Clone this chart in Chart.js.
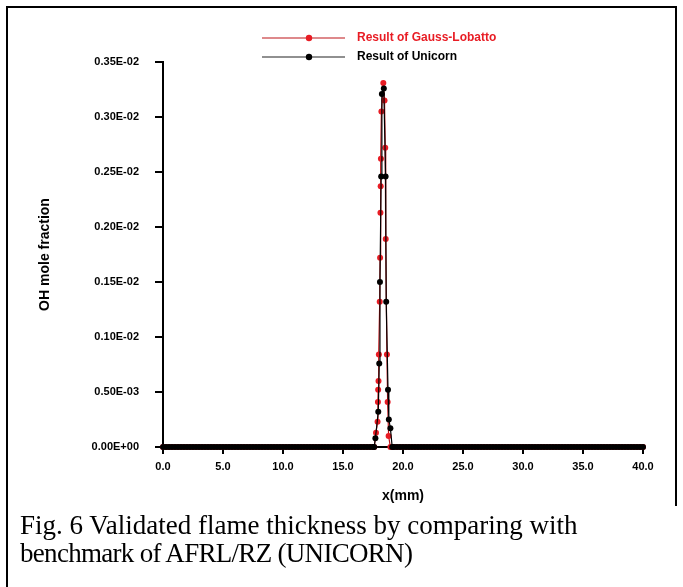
<!DOCTYPE html>
<html><head><meta charset="utf-8">
<script src="https://cdn.jsdelivr.net/npm/chart.js@4"></script>
<style>
html,body{margin:0;padding:0;background:#fff;}
#wrap{position:relative;width:683px;height:587px;overflow:hidden;background:#fff;}
#c{position:absolute;left:0;top:0;}
#bTop{position:absolute;left:6px;top:6px;width:671px;height:2px;background:#000;}
#bLeft{position:absolute;left:6px;top:6px;width:2px;height:590px;background:#000;}
#bRight{position:absolute;left:675px;top:6px;width:2px;height:500px;background:#000;}
#cap{position:absolute;left:20px;top:511px;font-family:"Liberation Serif","Times New Roman",serif;font-size:27px;line-height:28px;color:#000;white-space:nowrap;}
#cap .l2{letter-spacing:-0.7px;}
</style></head>
<body>
<div id="wrap">
<canvas id="c" width="683" height="587"></canvas>
<div id="bTop"></div><div id="bLeft"></div><div id="bRight"></div>
<div id="cap">Fig. 6 Validated flame thickness by comparing with<br><span class="l2">benchmark of AFRL/RZ (UNICORN)</span></div>
</div>
<script>
// ---- data ----
const seriesNames = ['Result of Gauss-Lobatto', 'Result of Unicorn'];
const xTitle = 'x(mm)';
const yTitle = 'OH mole fraction';
const yTickLabels = ['0.00E+00','0.50E-03','0.10E-02','0.15E-02','0.20E-02','0.25E-02','0.30E-02','0.35E-02'];

// baseline (zero) grid points on both sides of the flame
const baseLeftX = [0,0.25,0.5,0.75,1,1.25,1.5,1.75,2,2.25,2.5,2.75,3,3.25,3.5,3.75,4,4.25,4.5,4.75,5,5.25,5.5,5.75,6,6.25,6.5,6.75,7,7.25,7.5,7.75,8,8.25,8.5,8.75,9,9.25,9.5,9.75,10,10.25,10.5,10.75,11,11.25,11.5,11.75,12,12.25,12.5,12.75,13,13.25,13.5,13.75,14,14.25,14.5,14.75,15,15.25,15.5,15.75,16,16.25,16.5,16.75,17,17.25,17.5];
const baseRightX = [19.25,19.5,19.75,20,20.25,20.5,20.75,21,21.25,21.5,21.75,22,22.25,22.5,22.75,23,23.25,23.5,23.75,24,24.25,24.5,24.75,25,25.25,25.5,25.75,26,26.25,26.5,26.75,27,27.25,27.5,27.75,28,28.25,28.5,28.75,29,29.25,29.5,29.75,30,30.25,30.5,30.75,31,31.25,31.5,31.75,32,32.25,32.5,32.75,33,33.25,33.5,33.75,34,34.25,34.5,34.75,35,35.25,35.5,35.75,36,36.25,36.5,36.75,37,37.25,37.5,37.75,38,38.25,38.5,38.75,39,39.25,39.5,39.75,40];

// Gauss-Lobatto spike
const gaussX = [17.60,17.75,17.88,17.91,17.93,17.96,17.99,18.06,18.09,18.12,18.14,18.16,18.20,18.36,18.46,18.52,18.56,18.66,18.72,18.80,18.95,19.10];
const gaussY = [0,0.00013,0.00023,0.00041,0.00052,0.00060,0.00084,0.00132,0.00172,0.00213,0.00237,0.00262,0.00305,0.00331,0.00315,0.00272,0.00189,0.00084,0.00041,0.00010,0,0];

// Unicorn spike
const unicornX = [17.60,17.70,17.94,18.02,18.08,18.18,18.24,18.40,18.55,18.60,18.75,18.82,18.95,19.10];
const unicornY = [0,0.00008,0.00032,0.00076,0.00150,0.00246,0.00321,0.00326,0.00246,0.00132,0.00052,0.00025,0.00017,0];

const redColor = 'rgb(232,28,36)';
const redLine = 'rgb(190,20,25)';

function buildPoints(sx, sy) {
  const pts = [];
  baseLeftX.forEach(x => pts.push({x: x, y: 0}));
  sx.forEach((x, i) => pts.push({x: x, y: sy[i]}));
  baseRightX.forEach(x => pts.push({x: x, y: 0}));
  return pts;
}

const legendItems = [
  {text: seriesNames[0], color: redColor, line: redLine, y: 38},
  {text: seriesNames[1], color: '#000', line: '#222', y: 57}
];

const legendPlugin = {
  id: 'customLegend',
  afterDraw(chart) {
    const ctx = chart.ctx;
    ctx.save();
    legendItems.forEach(it => {
      ctx.strokeStyle = it.line;
      ctx.lineWidth = 1.2;
      ctx.beginPath(); ctx.moveTo(262, it.y); ctx.lineTo(345, it.y); ctx.stroke();
      ctx.fillStyle = it.color;
      ctx.beginPath(); ctx.arc(309, it.y, 3.2, 0, Math.PI * 2); ctx.fill();
      ctx.font = 'bold 12px "Liberation Sans", Arial, sans-serif';
      ctx.textBaseline = 'middle';
      ctx.textAlign = 'left';
      ctx.fillText(it.text, 357, it.y);
    });
    ctx.restore();
  }
};

const bgPlugin = {
  id: 'bg',
  beforeDraw(chart) {
    const ctx = chart.ctx;
    ctx.save(); ctx.fillStyle = '#fff'; ctx.fillRect(0, 0, chart.width, chart.height); ctx.restore();
  }
};

const tickFont = {family: '"Liberation Sans", Arial, sans-serif', size: 11, weight: 'bold'};

new Chart(document.getElementById('c'), {
  type: 'scatter',
  data: {
    datasets: [
      {
        label: seriesNames[1],
        data: buildPoints(unicornX, unicornY),
        showLine: true,
        clip: false,
        borderColor: '#000',
        backgroundColor: '#000',
        borderWidth: 1.2,
        pointRadius: 3,
        pointBorderWidth: 0,
        pointBackgroundColor: '#000'
      },
      {
        label: seriesNames[0],
        data: buildPoints(gaussX, gaussY),
        showLine: true,
        clip: false,
        borderColor: redLine,
        backgroundColor: redColor,
        borderWidth: 1.2,
        pointRadius: 3,
        pointBorderWidth: 0,
        pointBackgroundColor: redColor
      }
    ]
  },
  options: {
    responsive: false,
    animation: false,
    devicePixelRatio: 1,
    layout: {padding: {left: 37, right: 40, top: 62, bottom: 80}},
    plugins: {legend: {display: false}, tooltip: {enabled: false}},
    scales: {
      x: {
        type: 'linear', min: 0, max: 40,
        afterFit(s) { s.height = 60; },
        ticks: {stepSize: 5, color: '#000', font: tickFont, padding: 6, maxRotation: 0,
          callback: v => Number(v).toFixed(1)},
        grid: {display: true, drawOnChartArea: false, drawTicks: true, tickLength: 7, color: '#000', lineWidth: 2},
        border: {display: true, color: '#000', width: 2},
        title: {display: true, text: xTitle, color: '#000',
          font: {family: '"Liberation Sans", Arial, sans-serif', size: 14, weight: 'bold'}, padding: {top: 0, bottom: 2}}
      },
      y: {
        type: 'linear', min: 0, max: 0.0035,
        afterFit(s) { s.width = 126; },
        ticks: {stepSize: 0.0005, color: '#000', font: tickFont, padding: 16,
          callback: (v, i) => yTickLabels[i]},
        grid: {display: true, drawOnChartArea: false, drawTicks: true, tickLength: 8, color: '#000', lineWidth: 2},
        border: {display: true, color: '#000', width: 2},
        title: {display: true, text: yTitle, color: '#000',
          font: {family: '"Liberation Sans", Arial, sans-serif', size: 14, weight: 'bold'}, padding: {top: 0, bottom: 0}}
      }
    }
  },
  plugins: [bgPlugin, legendPlugin]
});
</script>
</body></html>
